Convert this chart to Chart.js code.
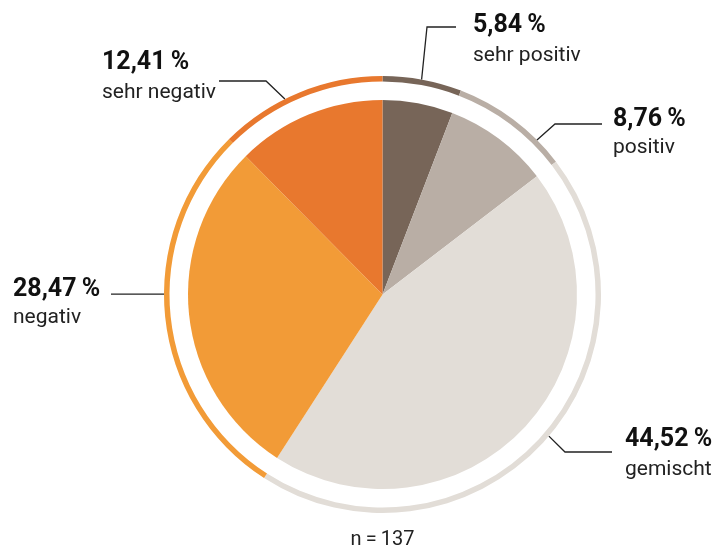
<!DOCTYPE html>
<html>
<head>
<meta charset="utf-8">
<script src="https://cdn.jsdelivr.net/npm/chart.js@4.4.1/dist/chart.umd.min.js"></script>
<style>
  html, body { margin: 0; padding: 0; background: #ffffff; }
  #wrap { position: relative; width: 713px; height: 547px; }
</style>
</head>
<body>
<div id="wrap"><canvas id="c" width="713" height="547"></canvas></div>
<script>
// ---- data ----
const categories = ['sehr positiv', 'positiv', 'gemischt', 'negativ', 'sehr negativ'];
const shares = [5.84, 8.76, 44.52, 28.47, 12.41];
const sampleNote = 'n\u2009=\u2009137';

// ---- style ----
const colors = ['#776558', '#b9aea5', '#e2ddd7', '#f29b37', '#e8782e'];
const FONT = 'Roboto, "Liberation Sans", sans-serif';

function fmtPct(v) {
  return v.toFixed(2).replace('.', ',') + '\u2009%';
}

// label layout, relative to chart centre (px) — annotation placement only
const labelLayout = [
  { angleAdj: -0.2, elbow: [44.5, -267.5], endX: 73.5, textX: 90.5, pctY: -262.5, catY: -233.5 },
  { angleAdj: 8.2, elbow: [172.5, -170.5], endX: 219.5, textX: 230.5, pctY: -168.5, catY: -141.5 },
  { angleAdj: -2.3, elbow: [182.5, 157.5], endX: 229.5, textX: 242.5, pctY: 151.5, catY: 180.5 },
  { angleAdj: 6.0, elbow: null, endX: -271.5, textX: -369.5, pctY: 1.5, catY: 28.5 },
  { angleAdj: -4.2, elbow: [-116.5, -213.5], endX: -163.5, textX: -280.5, pctY: -225.5, catY: -196.5 }
];

const labelPlugin = {
  id: 'leaderLabels',
  afterDraw(chart) {
    const ctx = chart.ctx;
    const ringMeta = chart.getDatasetMeta(0);
    ctx.save();
    ringMeta.data.forEach((arc, i) => {
      const L = labelLayout[i];
      const cx = arc.x, cy = arc.y;
      const mid = (arc.startAngle + arc.endAngle) / 2 + L.angleAdj * Math.PI / 180;
      const r = arc.outerRadius;
      const sx = cx + r * Math.cos(mid), sy = cy + r * Math.sin(mid);
      let ex, ey;
      ctx.beginPath();
      ctx.moveTo(sx, sy);
      if (L.elbow) {
        ex = cx + L.elbow[0]; ey = cy + L.elbow[1];
        ctx.lineTo(ex, ey);
      } else {
        ex = sx; ey = sy;
      }
      ctx.lineTo(cx + L.endX, ey);
      ctx.strokeStyle = '#222222';
      ctx.lineWidth = 1.3;
      ctx.stroke();

      ctx.textAlign = 'left';
      ctx.textBaseline = 'alphabetic';
      ctx.fillStyle = '#111111';
      ctx.font = 'bold 25px ' + FONT;
      ctx.fillText(fmtPct(shares[i]), cx + L.textX, cy + L.pctY);
      ctx.fillStyle = '#222222';
      ctx.font = '21px ' + FONT;
      ctx.fillText(categories[i], cx + L.textX, cy + L.catY);
    });
    ctx.textAlign = 'center';
    ctx.fillStyle = '#222222';
    ctx.font = '20px ' + FONT;
    const a0 = ringMeta.data[0];
    ctx.fillText(sampleNote, a0.x, 545);
    ctx.restore();
  }
};

new Chart(document.getElementById('c'), {
  type: 'doughnut',
  data: {
    labels: categories,
    datasets: [
      { data: shares, backgroundColor: colors, borderWidth: 0, weight: 5.5 },
      { data: shares, backgroundColor: 'rgba(0,0,0,0)', borderWidth: 0, weight: 18.5 },
      { data: shares, backgroundColor: colors, borderWidth: 0, weight: 194.5 }
    ]
  },
  options: {
    responsive: false,
    animation: false,
    events: [],
    cutout: 0,
    layout: { padding: { left: 164, top: 76, right: 112, bottom: 34 } },
    plugins: {
      legend: { display: false },
      tooltip: { enabled: false },
      title: { display: false }
    }
  },
  plugins: [labelPlugin]
});
</script>
</body>
</html>
